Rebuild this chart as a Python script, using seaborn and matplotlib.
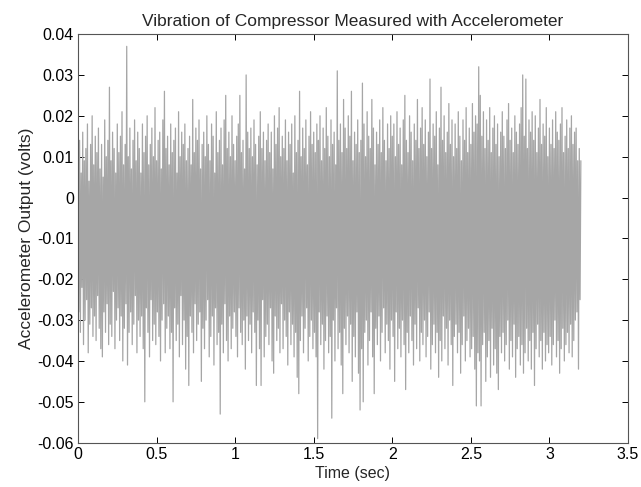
import numpy as np
import pandas as pd
import matplotlib
matplotlib.use("Agg")
import matplotlib.pyplot as plt
import seaborn as sns

# ---- data ----
sample_interval_sec = 0.005
# accelerometer output in millivolts, one value per 5 ms sample (0 .. 3.2 s)
accel_mv = [
    10, -28, 14, -33, 6, -22, 16, -36, 9, -30, 12, -25, 18, -38, 4, -31, 13, -27, 20, -34,
    8, -29, 15, -35, 11, -24, 17, -32, 7, -37, 13, -39, 5, -28, 19, -33, 10, -26, 14, -36,
    27, -31, 9, -34, 16, -23, 12, -37, 6, -30, 18, -27, 11, -35, 15, -29, 21, -40, 8, -32,
    13, -26, 37, -41, 10, -33, 17, -28, 7, -36, 14, -31, 19, -24, 9, -38, 16, -30, 12, -34,
    6, -29, 18, -37, 11, -50, 15, -27, 20, -33, 8, -39, 13, -25, 17, -35, 10, -31, 22, -36,
    9, -28, 14, -34, 16, -40, 7, -30, 19, -26, 26, -38, 12, -32, 15, -29, 8, -37, 18, -33,
    11, -50, 14, -27, 17, -35, 6, -31, 21, -39, 10, -24, 16, -36, 13, -30, 18, -42, 9, -34,
    12, -46, 15, -29, 8, -33, 24, -38, 11, -26, 17, -35, 14, -31, 19, -28, 7, -45, 13, -32,
    16, -37, 10, -30, 20, -25, 13, -39, 9, -34, 18, -29, 15, -41, 6, -27, 21, -36, 11, -33,
    14, -53, 17, -31, 8, -38, 19, -26, 25, -35, 12, -40, 16, -29, 10, -37, 20, -32, 13, -28,
    9, -34, 15, -39, 18, -27, 25, -33, 11, -36, 14, -30, 7, -42, 30, -29, 16, -35, 12, -31,
    17, -38, 10, -28, 19, -33, 13, -46, 8, -30, 15, -37, 21, -46, 12, -25, 16, -39, 9, -34,
    14, -31, 18, -36, 11, -27, 16, -40, 7, -43, 20, -29, 13, -35, 17, -32, 22, -38, 10, -26,
    15, -37, 12, -30, 19, -34, 9, -41, 16, -28, 13, -36, 18, -31, 6, -39, 20, -33, 11, -44,
    14, -48, 26, -35, 10, -29, 17, -38, 12, -32, 19, -27, 8, -40, 15, -34, 21, -30, 13, -37,
    16, -33, 11, -39, 18, -59, 14, -28, 20, -36, 9, -31, 17, -42, 12, -35, 22, -29, 15, -38,
    10, -34, 19, -54, 13, -30, 16, -40, 8, -27, 31, -37, 14, -33, 18, -41, 11, -48, 24, -32,
    17, -36, 12, -29, 20, -38, 15, -31, 26, -45, 9, -34, 16, -39, 13, -28, 19, -43, 11, -52,
    14, -37, 28, -50, 18, -33, 10, -30, 21, -41, 15, -35, 12, -28, 24, -39, 17, -48, 8, -32,
    16, -36, 13, -29, 19, -40, 11, -33, 22, -27, 14, -38, 9, -31, 18, -35, 12, -42, 20, -30,
    15, -34, 18, -45, 10, -28, 21, -37, 13, -32, 17, -39, 8, -30, 19, -36, 25, -47, 14, -33,
    11, -38, 20, -29, 16, -35, 9, -41, 18, -31, 14, -37, 24, -27, 12, -40, 17, -33, 22, -36,
    13, -30, 19, -39, 10, -34, 16, -28, 29, -42, 12, -36, 18, -31, 15, -38, 21, -33, 8, -44,
    17, -35, 27, -40, 14, -29, 20, -37, 11, -32, 16, -41, 23, -30, 13, -36, 19, -46, 10, -34,
    18, -31, 12, -38, 21, -33, 15, -43, 9, -36, 19, -29, 14, -40, 22, -35, 11, -32, 17, -39,
    13, -37, 23, -34, 16, -42, 20, -51, 18, -38, 32, -40, 25, -51, 15, -36, 21, -33, 12, -45,
    19, -39, 14, -35, 22, -44, 11, -32, 17, -41, 20, -37, 13, -43, 18, -47, 10, -34, 16, -38,
    21, -33, 15, -40, 12, -36, 19, -30, 23, -42, 14, -35, 17, -39, 11, -31, 20, -44, 16, -37,
    13, -34, 18, -41, 22, -36, 30, -43, 15, -38, 29, -32, 12, -40, 19, -35, 16, -42, 21, -33,
    14, -46, 20, -37, 11, -31, 17, -39, 24, -35, 13, -42, 18, -33, 15, -40, 22, -36, 10, -38,
    17, -34, 13, -41, 19, -36, 12, -30, 21, -39, 16, -35, 14, -43, 18, -37, 22, -32, 11, -40,
    15, -36, 19, -33, 12, -38, 17, -31, 20, -39, 13, -35, 16, -30, 17, -28, 9, -42, 12, -25,
    9,
]

x_ticks = [0, 0.5, 1, 1.5, 2, 2.5, 3, 3.5]
x_tick_labels = ["0", "0.5", "1", "1.5", "2", "2.5", "3", "3.5"]
y_ticks = [-0.06, -0.05, -0.04, -0.03, -0.02, -0.01, 0, 0.01, 0.02, 0.03, 0.04]
y_tick_labels = ["-0.06", "-0.05", "-0.04", "-0.03", "-0.02", "-0.01", "0",
                 "0.01", "0.02", "0.03", "0.04"]

title_text = "Vibration of Compressor Measured with Accelerometer"
x_label = "Time (sec)"
y_label = "Accelerometer Output (volts)"

# ---- build table ----
time_sec = np.arange(len(accel_mv)) * sample_interval_sec
accel_volts = np.array(accel_mv, dtype=float) / 1000.0
df = pd.DataFrame({"time": time_sec, "volts": accel_volts})

# ---- style ----
sns.set_theme(style="ticks")
plt.rcParams["font.family"] = ["Liberation Sans", "DejaVu Sans"]

fig = plt.figure(figsize=(6.41, 4.87), dpi=100)
ax = fig.add_axes([0.1217, 0.091, 0.858, 0.839])

sns.lineplot(data=df, x="time", y="volts", ax=ax, color="#a6a6a6",
             linewidth=0.9, estimator=None, sort=False)

ax.set_xlim(0, 3.5)
ax.set_ylim(-0.06, 0.04)
ax.set_xticks(x_ticks)
ax.set_xticklabels(x_tick_labels)
ax.set_yticks(y_ticks)
ax.set_yticklabels(y_tick_labels)

ax.tick_params(direction="in", length=4, width=0.7, top=True, right=True,
               labelsize=11.5, colors="black", pad=3)
for s in ax.spines.values():
    s.set_visible(True)
    s.set_linewidth(0.8)
    s.set_color("#555555")

ax.set_title(title_text, fontsize=12.5, pad=6)
ax.set_xlabel(x_label, fontsize=11.5, labelpad=3)
ax.set_ylabel(y_label, fontsize=12.5, labelpad=2)

fig.savefig("out.png", dpi=100)
